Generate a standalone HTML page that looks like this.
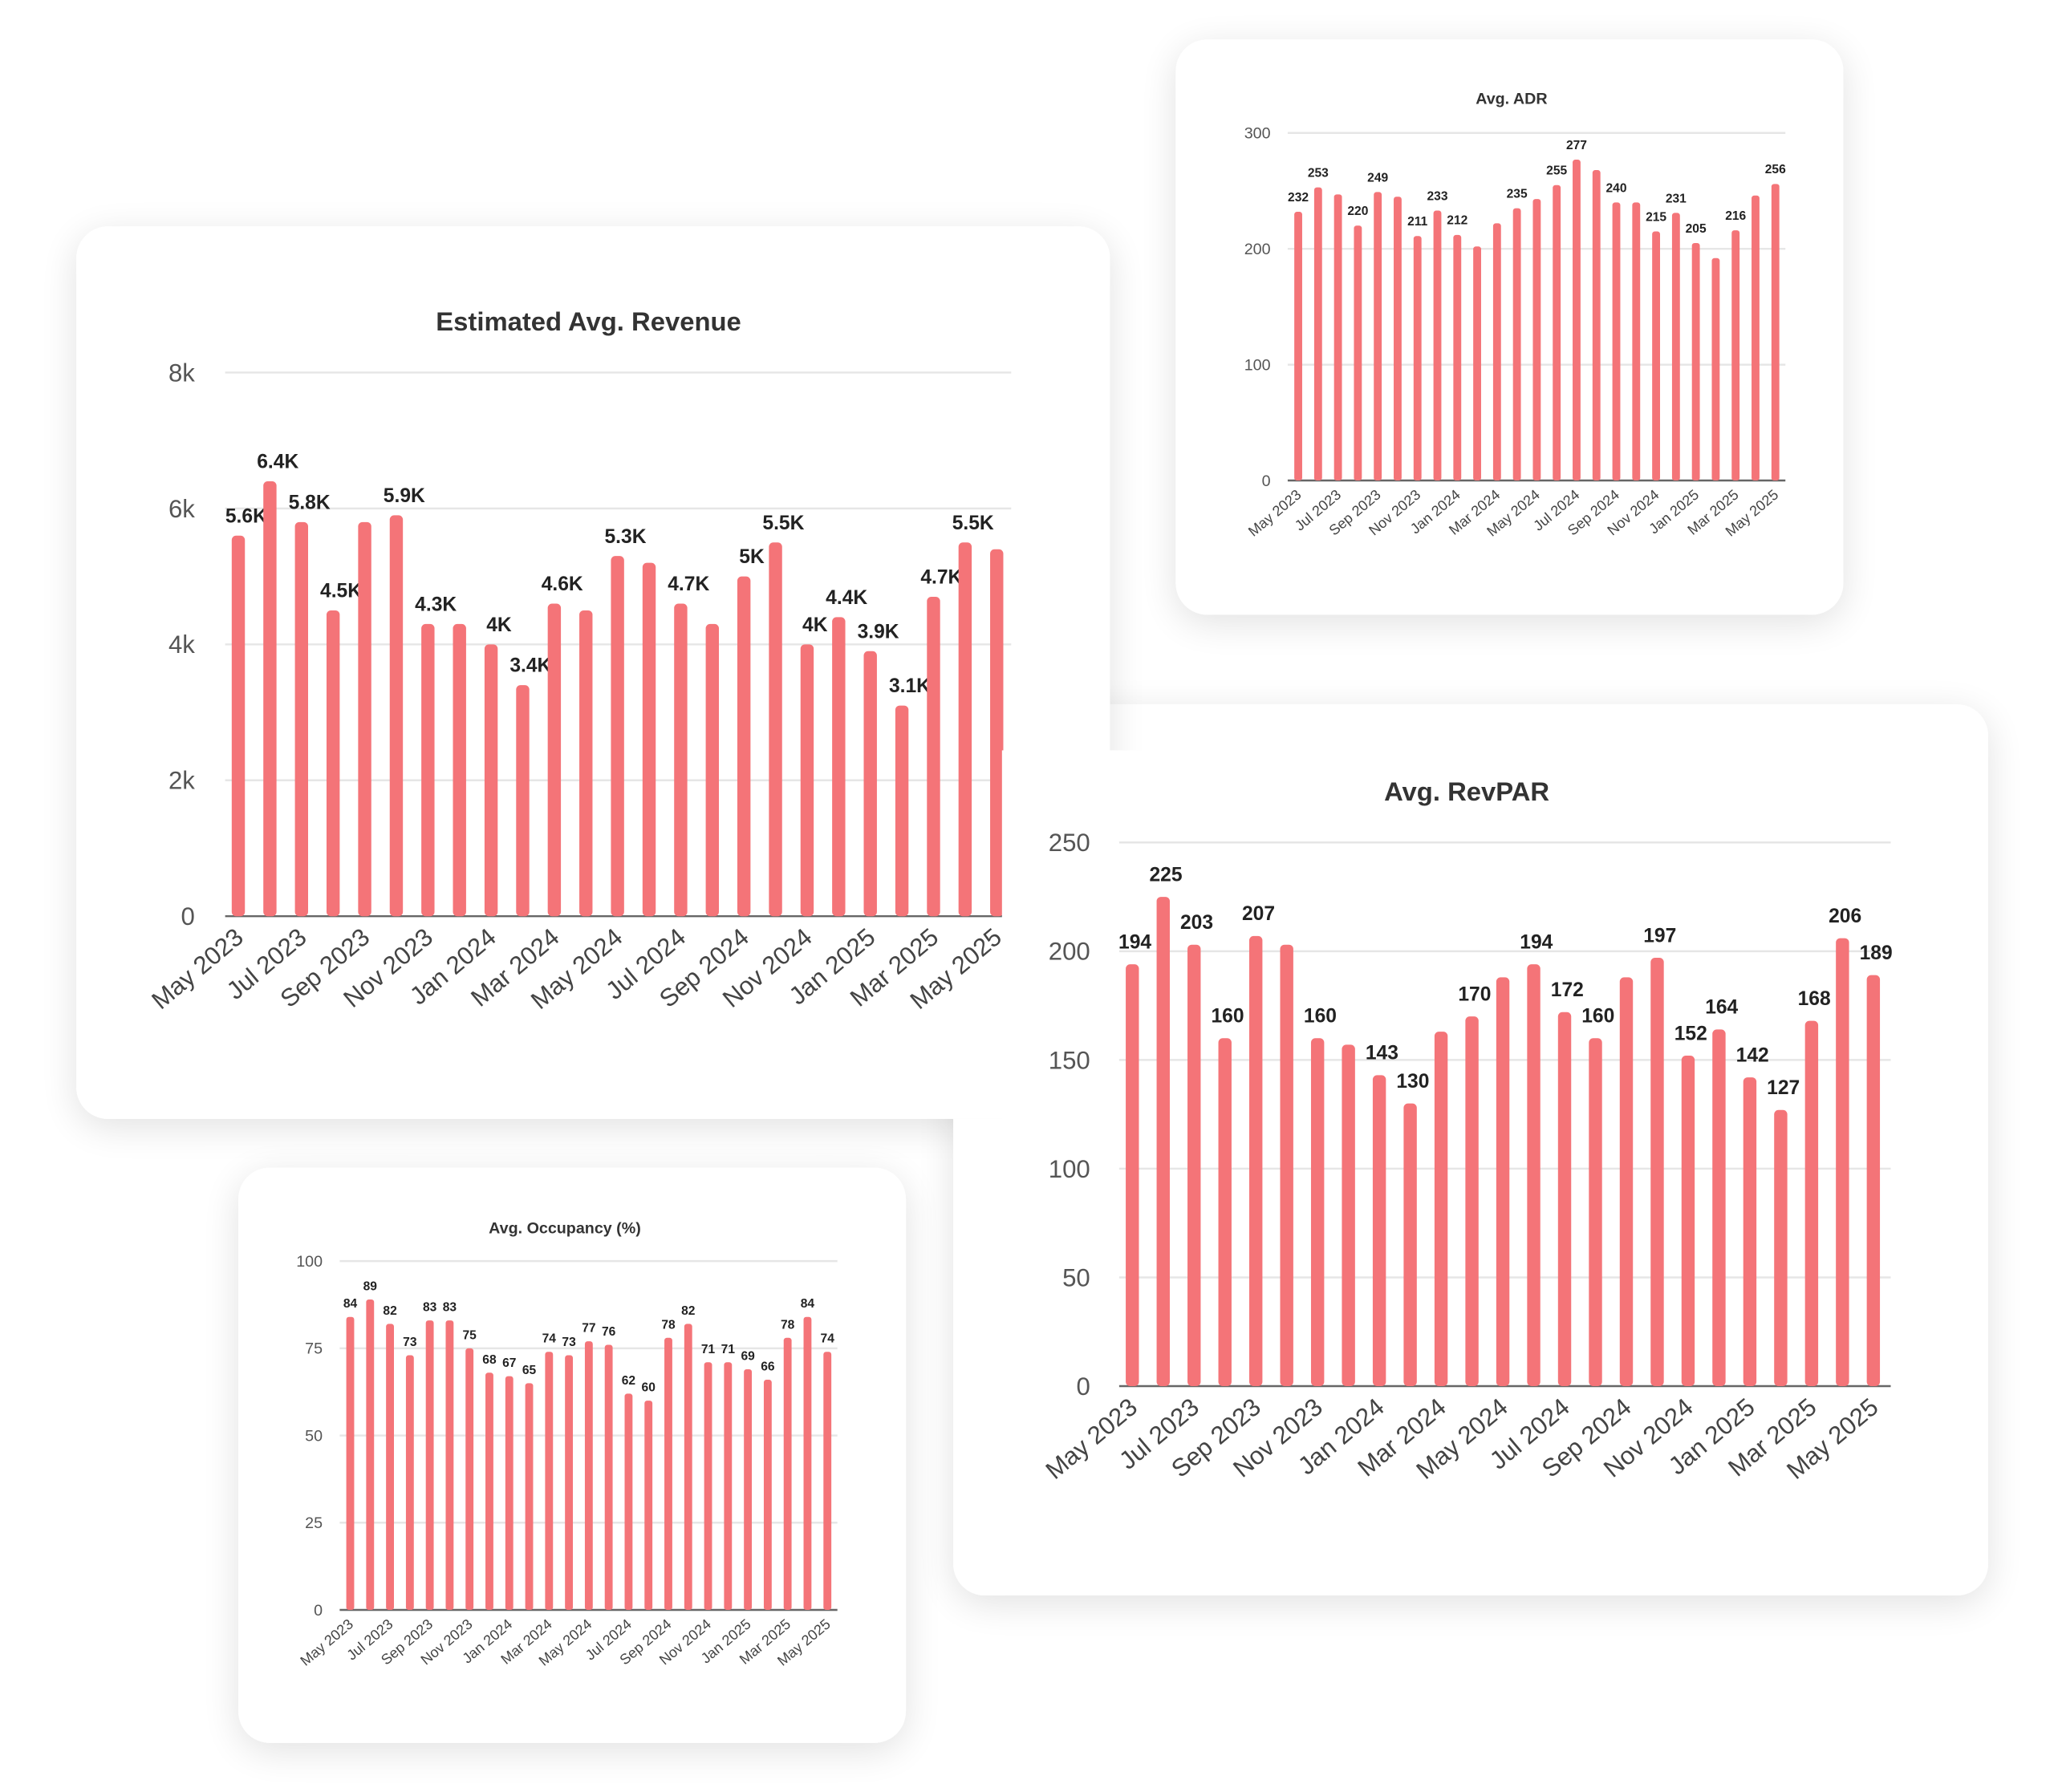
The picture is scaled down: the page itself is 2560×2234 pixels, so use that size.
<!DOCTYPE html>
<html><head><meta charset="utf-8"><style>
html,body{margin:0;padding:0;background:#fff;}
svg{display:block;font-family:"Liberation Sans",sans-serif;}
</style></head><body>
<svg id="root" width="2560" height="2234" viewBox="0 0 1560 1361.3" xmlns="http://www.w3.org/2000/svg">
<defs>
<filter id="sh" x="-20%" y="-20%" width="140%" height="140%">
<feGaussianBlur in="SourceAlpha" stdDeviation="14"/>
<feOffset dy="6"/>
<feComponentTransfer><feFuncA type="linear" slope="0.12"/></feComponentTransfer>
<feMerge><feMergeNode/><feMergeNode in="SourceGraphic"/></feMerge>
</filter>
</defs>
<g id="layer"></g>
</svg>
<script>
const months = ["May 2023","Jun 2023","Jul 2023","Aug 2023","Sep 2023","Oct 2023","Nov 2023","Dec 2023","Jan 2024","Feb 2024","Mar 2024","Apr 2024","May 2024","Jun 2024","Jul 2024","Aug 2024","Sep 2024","Oct 2024","Nov 2024","Dec 2024","Jan 2025","Feb 2025","Mar 2025","Apr 2025","May 2025"];
const revenueValues = [5.6,6.4,5.8,4.5,5.8,5.9,4.3,4.3,4.0,3.4,4.6,4.5,5.3,5.2,4.6,4.3,5.0,5.5,4.0,4.4,3.9,3.1,4.7,5.5,5.4];
const revenueLabels = ["5.6K","6.4K","5.8K","4.5K","","5.9K","4.3K","","4K","3.4K","4.6K","","5.3K","","4.7K","","5K","5.5K","4K","4.4K","3.9K","3.1K","4.7K","5.5K",""];
const revenueTicks = ["0","2k","4k","6k","8k"];
const revenueTickValues = [0,2,4,6,8];
const adrValues = [232,253,247,220,249,245,211,233,212,202,222,235,243,255,277,268,240,240,215,231,205,192,216,246,256];
const adrLabels = ["232","253","","220","249","","211","233","212","","","235","","255","277","","240","","215","231","205","","216","","256"];
const adrTicks = [0,100,200,300];
const revparValues = [194,225,203,160,207,203,160,157,143,130,163,170,188,194,172,160,188,197,152,164,142,127,168,206,189];
const revparLabels = ["194","225","203","160","207","","160","","143","130","","170","","194","172","160","","197","152","164","142","127","168","206","189"];
const revparTicks = [0,50,100,150,200,250];
const occValues = [84,89,82,73,83,83,75,68,67,65,74,73,77,76,62,60,78,82,71,71,69,66,78,84,74];
const occLabels = occValues.map(String);
const occTicks = [0,25,50,75,100];

const NS="http://www.w3.org/2000/svg";
const layer=document.getElementById('layer');
function el(tag,attrs,parent,text){const e=document.createElementNS(NS,tag);for(const k in attrs)e.setAttribute(k,attrs[k]);if(text!==undefined)e.textContent=text;(parent||layer).appendChild(e);return e;}

function card(x,y,w,h,name){
  const r=el('rect',{x:x,y:y,width:w,height:h,rx:24,fill:'#fff',filter:'url(#sh)'});
  
  
}

function chart(cfg){
  const g=el('g',{});
  
  
  const yS=v=>cfg.y0-(v-0)/(cfg.max)*(cfg.y0-cfg.yTop);
  const xS=i=>cfg.x0+i*cfg.step;
  const t=el('text',{x:cfg.titleX,y:cfg.titleY,'text-anchor':'middle','font-size':cfg.titleSize,'font-weight':'bold',fill:'#333'},g,cfg.title);
  
  
  cfg.ticks.forEach((v,k)=>{
    const yy=yS(v);
    const gl=el('line',{x1:cfg.gridX1,x2:cfg.gridX2,y1:yy,y2:yy,stroke:v===0?'#666':'#e6e6e6','stroke-width':1.5},g);
    
    
    const tl=el('text',{x:cfg.tickX,y:yy+cfg.tickSize*0.35,'text-anchor':'end','font-size':cfg.tickSize,fill:'#555'},g,cfg.tickLabels?cfg.tickLabels[k]:String(v));
    
    
  });
  cfg.values.forEach((v,i)=>{
    const x=xS(i), y=yS(v);
    const b=el('rect',{x:x-cfg.bw/2,y:y,width:cfg.bw,height:cfg.y0-y,rx:cfg.bw/3,fill:'#f47478'},g);
    
    
    if(cfg.labels[i]){
      const lb=el('text',{x:x+cfg.lblDx,y:y-cfg.lblDy,'text-anchor':'middle','font-size':cfg.lblSize,'font-weight':'bold',fill:'#222'},g,cfg.labels[i]);
      
      
    }
    if(i%2===0){
      const ax=el('text',{x:x+cfg.bw/2,y:cfg.y0+cfg.xlDy,'text-anchor':'end','font-size':cfg.xlSize,fill:'#444',transform:`rotate(-40 ${x+cfg.bw/2} ${cfg.y0+cfg.xlDy})`},g,months[i]);
      
      
    }
  });
}

card(893,30,507,437,'adr-card');
chart({name:'adr-chart',title:'Avg. ADR',titleX:1148,titleY:79,titleSize:12,x0:986,step:15.1,bw:6,y0:365,yTop:101,max:300,
  values:adrValues,labels:adrLabels,ticks:adrTicks,gridX1:978,gridX2:1356,tickX:965,tickSize:12,
  lblDx:0,lblDy:8,lblSize:9.5,xlDy:12,xlSize:11});

card(724,535,786,677,'revpar-card');

card(58,172,785,678,'revenue-card');
chart({name:'revenue-chart',title:'Estimated Avg. Revenue',titleX:447,titleY:251,titleSize:20,x0:181,step:24,bw:10,y0:696,yTop:283,max:8,
  values:revenueValues,labels:revenueLabels,ticks:revenueTickValues,tickLabels:revenueTicks,gridX1:171,gridX2:768,tickX:148,tickSize:19,
  lblDx:6,lblDy:10,lblSize:15,xlDy:18,xlSize:19});

card(181,887,507,437,'occupancy-card');
chart({name:'occupancy-chart',title:'Avg. Occupancy (%)',titleX:429,titleY:937,titleSize:12,x0:266,step:15.1,bw:6,y0:1223,yTop:958,max:100,
  values:occValues,labels:occLabels,ticks:occTicks,gridX1:258,gridX2:636,tickX:245,tickSize:12,
  lblDx:0,lblDy:7,lblSize:9.5,xlDy:12,xlSize:11});

const cover=el('rect',{x:761,y:570,width:110,height:315,fill:'#fff'});


const cover2=el('rect',{x:724,y:850,width:150,height:330,fill:'#fff'});



chart({name:'revpar-chart',title:'Avg. RevPAR',titleX:1114,titleY:608,titleSize:20,x0:860,step:23.45,bw:10,y0:1053,yTop:640,max:250,
  values:revparValues,labels:revparLabels,ticks:revparTicks,gridX1:850,gridX2:1436,tickX:828,tickSize:19,
  lblDx:2,lblDy:12,lblSize:15,xlDy:18,xlSize:19});
</script>
</body></html>
